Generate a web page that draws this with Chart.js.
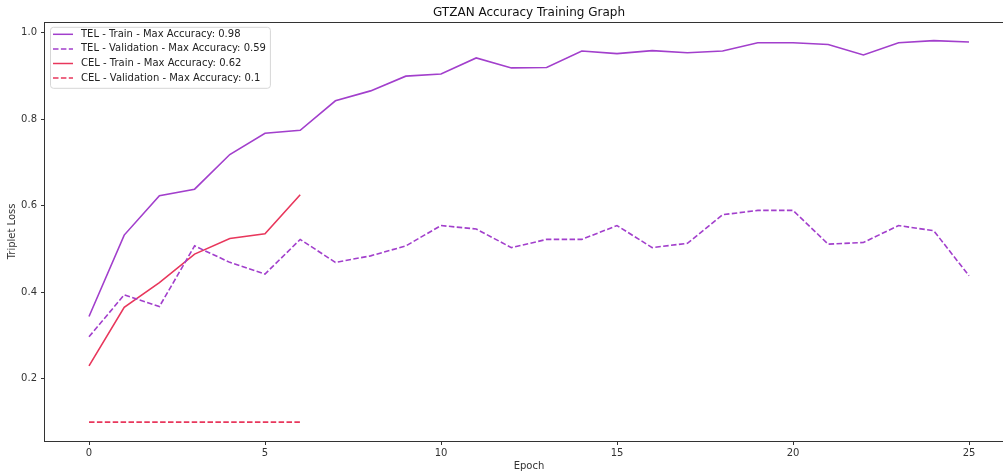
<!DOCTYPE html>
<html>
<head>
<meta charset="utf-8">
<script src="https://cdn.jsdelivr.net/npm/chart.js@4/dist/chart.umd.min.js"></script>
<style>
  html, body { margin: 0; padding: 0; background: #fff; overflow: hidden; }
  #wrap { position: absolute; left: 0; top: 0; width: 1016px; height: 471px; }
</style>
</head>
<body>
<div id="wrap"><canvas id="acc"></canvas></div>
<script>
// data
var epochs = [0, 1, 2, 3, 4, 5, 6, 7, 8, 9, 10, 11, 12, 13, 14, 15, 16, 17, 18, 19, 20, 21, 22, 23, 24, 25];
var telTrain = [0.344, 0.532, 0.623, 0.638, 0.718, 0.767, 0.774, 0.842, 0.865, 0.899, 0.904, 0.941, 0.918,
                0.919, 0.957, 0.951, 0.958, 0.953, 0.957, 0.976, 0.976, 0.972, 0.948, 0.976, 0.981, 0.978];
var telVal = [0.297, 0.394, 0.367, 0.507, 0.469, 0.442, 0.522, 0.469, 0.484, 0.507, 0.554, 0.546, 0.503,
              0.522, 0.522, 0.554, 0.503, 0.513, 0.579, 0.589, 0.589, 0.511, 0.515, 0.554, 0.542, 0.438];
var celTrain = [0.230, 0.365, 0.422, 0.488, 0.524, 0.535, 0.625];
var celVal = [0.1, 0.1, 0.1, 0.1, 0.1, 0.1, 0.1];
var seriesLabels = [
    "TEL - Train - Max Accuracy: 0.98",
    "TEL - Validation - Max Accuracy: 0.59",
    "CEL - Train - Max Accuracy: 0.62",
    "CEL - Validation - Max Accuracy: 0.1"
];
var xTicks = [0, 5, 10, 15, 20, 25];
var yTicks = [0.2, 0.4, 0.6, 0.8, 1.0];

var purple = "#a23fcc";
var red = "#e8375c";
var dash = [5.5, 2.4];
var FONT = "'DejaVu Sans', sans-serif";

function points(vals)
{
    return vals.map(function(v, i) { return { x: epochs[i], y: v }; });
}

// matplotlib style box around the axes
var spines = {
    id: "spines",
    afterDatasetsDraw: function(chart)
    {
        var a = chart.chartArea, ctx = chart.ctx;
        ctx.save();
        ctx.strokeStyle = "#333";
        ctx.lineWidth = 1;
        ctx.strokeRect(Math.round(a.left) - 0.5, Math.round(a.top) + 0.5,
                       Math.round(a.right - a.left) + 1, Math.round(a.bottom - a.top));
        ctx.restore();
    }
};

// legend box in the upper left corner of the axes
var boxLegend = {
    id: "boxLegend",
    afterDraw: function(chart)
    {
        var a = chart.chartArea, ctx = chart.ctx;
        var sets = chart.data.datasets;
        ctx.save();
        ctx.font = "10px " + FONT;
        var maxW = 0;
        sets.forEach(function(ds) { maxW = Math.max(maxW, ctx.measureText(ds.label).width); });
        var x0 = a.left + 5, y0 = a.top + 5;
        var w = 35 + maxW, h = 61, r = 3;
        ctx.beginPath();
        ctx.roundRect(x0 + 0.5, y0 + 0.5, w, h, r);
        ctx.fillStyle = "rgba(255,255,255,0.8)";
        ctx.fill();
        ctx.strokeStyle = "#d6d6d6";
        ctx.lineWidth = 1;
        ctx.stroke();
        sets.forEach(function(ds, i) {
            var y = y0 + 7.5 + i * 14.6;
            ctx.beginPath();
            ctx.setLineDash(ds.borderDash || []);
            ctx.strokeStyle = ds.borderColor;
            ctx.lineWidth = 1.5;
            ctx.moveTo(x0 + 3, y);
            ctx.lineTo(x0 + 23, y);
            ctx.stroke();
            ctx.setLineDash([]);
            ctx.fillStyle = "#222";
            ctx.textBaseline = "middle";
            ctx.fillText(ds.label, x0 + 31, y);
        });
        ctx.restore();
    }
};

var accChart = new Chart(document.getElementById("acc"), {
    type: "line",
    data: {
        datasets: [
            { label: seriesLabels[0], data: points(telTrain), borderColor: purple, borderWidth: 1.6 },
            { label: seriesLabels[1], data: points(telVal), borderColor: purple, borderWidth: 1.6, borderDash: dash },
            { label: seriesLabels[2], data: points(celTrain), borderColor: red, borderWidth: 1.6 },
            { label: seriesLabels[3], data: points(celVal), borderColor: red, borderWidth: 1.6, borderDash: dash }
        ]
    },
    options: {
        responsive: true,
        maintainAspectRatio: false,
        devicePixelRatio: 1,
        animation: false,
        layout: { padding: { left: 0, right: 3, top: 0, bottom: 0 } },
        elements: {
            point: { radius: 0 },
            line: { tension: 0, fill: false, borderCapStyle: "butt" }
        },
        plugins: {
            legend: { display: false },
            tooltip: { enabled: false },
            title: {
                display: true,
                text: "GTZAN Accuracy Training Graph",
                fullSize: false,
                color: "#111",
                font: { family: FONT, size: 12, weight: "normal", lineHeight: 1.15 },
                padding: { top: 6, bottom: 2 }
            }
        },
        scales: {
            x: {
                type: "linear",
                min: -1.25,
                max: 26.25,
                afterBuildTicks: function(s) { s.ticks = xTicks.map(function(v) { return { value: v }; }); },
                afterFit: function(s) { s.height = 30; },
                grid: { drawOnChartArea: false, drawTicks: true, tickLength: 4, color: "#333" },
                border: { display: false },
                ticks: {
                    color: "#333",
                    padding: 2,
                    maxRotation: 0,
                    font: { family: FONT, size: 10 },
                    callback: function(v) { return String(v); }
                },
                title: {
                    display: true,
                    text: "Epoch",
                    color: "#333",
                    padding: { top: 0, bottom: 0 },
                    font: { family: FONT, size: 10, lineHeight: 1 }
                }
            },
            y: {
                type: "linear",
                min: 0.0565,
                max: 1.0245,
                afterBuildTicks: function(s) { s.ticks = yTicks.map(function(v) { return { value: v }; }); },
                afterFit: function(s) { s.width = 45; },
                grid: { drawOnChartArea: false, drawTicks: true, tickLength: 4, color: "#333" },
                border: { display: false },
                ticks: {
                    color: "#333",
                    padding: 4,
                    font: { family: FONT, size: 10 },
                    callback: function(v) { return v.toFixed(1); }
                },
                title: {
                    display: true,
                    text: "Triplet Loss",
                    color: "#333",
                    padding: { top: 6, bottom: 0 },
                    font: { family: FONT, size: 10 }
                }
            }
        }
    },
    plugins: [spines, boxLegend]
});
</script>
</body>
</html>
